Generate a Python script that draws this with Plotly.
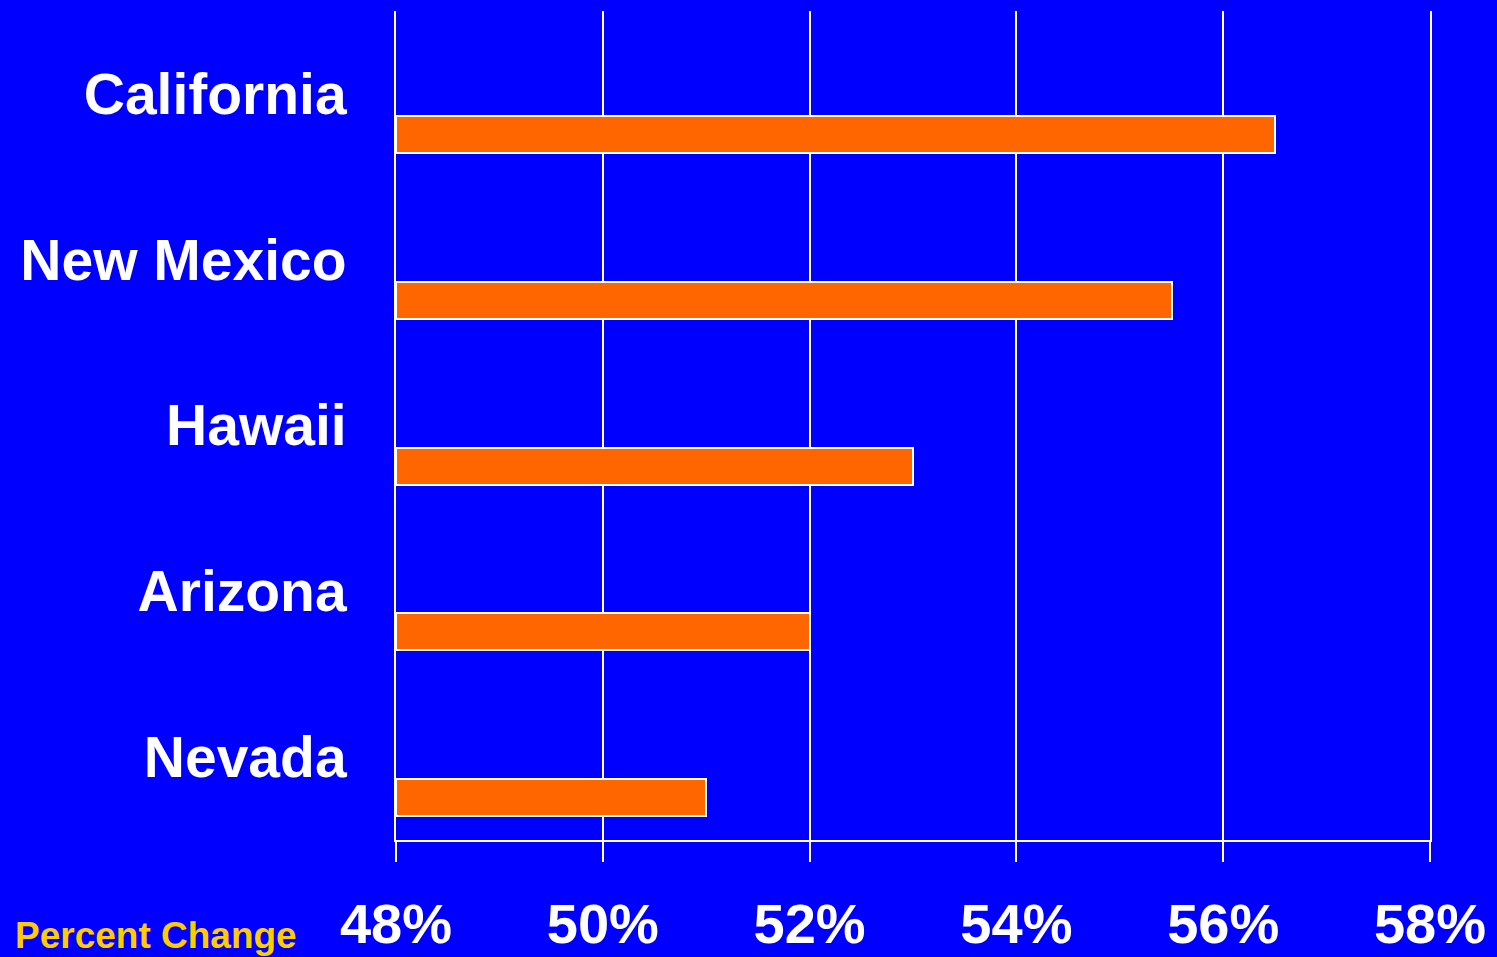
import plotly.graph_objects as go

states = ["California", "New Mexico", "Hawaii", "Arizona", "Nevada"]
pct_change = [56.5, 55.5, 53.0, 52.0, 51.0]
tick_vals = [48, 50, 52, 54, 56, 58]
tick_text = ["48%", "50%", "52%", "54%", "56%", "58%"]

BLUE = "#0000FF"
ORANGE = "#FF6600"
FONT = "Liberation Sans, Arial, sans-serif"

fig = go.Figure()
fig.add_trace(go.Bar(
    y=states,
    x=[v - 48 for v in pct_change],
    base=48,
    orientation="h",
    marker=dict(color=ORANGE, line=dict(color="white", width=2)),
    width=0.223,
    offset=0.133,
    hoverinfo="skip",
))

fig.update_layout(
    width=1497, height=957,
    paper_bgcolor=BLUE, plot_bgcolor=BLUE,
    margin=dict(l=396, r=67, t=11, b=117),
    showlegend=False,
    bargap=0,
    xaxis=dict(
        range=[48, 58],
        tickvals=tick_vals, ticktext=tick_text,
        showgrid=True, gridcolor="white", gridwidth=2,
        showline=True, linecolor="white", linewidth=2,
        ticks="outside", ticklen=20, tickwidth=2, tickcolor="white",
        tickfont=dict(family=FONT, size=56, color="white", weight="bold"),
        ticklabelstandoff=14,
        zeroline=False,
        automargin=False,
    ),
    yaxis=dict(
        autorange="reversed",
        showgrid=False,
        showline=True, linecolor="white", linewidth=2, mirror=True,
        ticks="",
        tickfont=dict(family=FONT, size=57, color="white", weight="bold"),
        ticklabelstandoff=36,
        automargin=False,
    ),
    annotations=[dict(
        text="<b>Percent Change</b>",
        xref="paper", yref="paper",
        x=-396 / 1034 + 13 / 1034, y=-(935 - 840) / 829,
        xanchor="left", yanchor="middle",
        showarrow=False,
        font=dict(family=FONT, size=37, color="#FFCC00"),
    )],
)

fig.write_html(
    "out.html",
    config={"displayModeBar": False},
    post_script="document.body.style.margin='0';document.body.style.background='#0000FF';",
)
